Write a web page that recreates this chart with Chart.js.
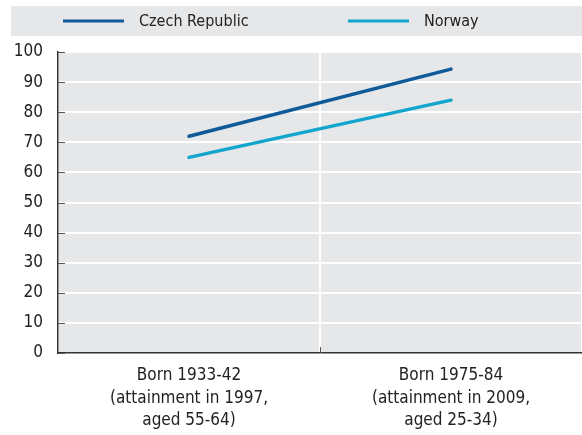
<!DOCTYPE html>
<html>
<head>
<meta charset="utf-8">
<script src="https://cdn.jsdelivr.net/npm/chart.js@4"></script>
<style>
  html, body { margin: 0; padding: 0; background: #fff; }
  #wrap { width: 582px; height: 435px; position: relative; }
</style>
</head>
<body>
<div id="wrap"><canvas id="chart"></canvas></div>
<script>
const categories = [
    ["Born 1933-42", "(attainment in 1997,", "aged 55-64)"],
    ["Born 1975-84", "(attainment in 2009,", "aged 25-34)"]
];
const seriesNames = ["Czech Republic", "Norway"];
const czechValues = [72, 94.3];
const norwayValues = [65, 84];
const yTicks = [0, 10, 20, 30, 40, 50, 60, 70, 80, 90, 100];

const FONT = "'DejaVu Sans Condensed', 'Liberation Sans', sans-serif";
const PANEL = "#e6e7e8";
const colors = ["#0f5a99", "#12a6cd"];

// grey plot background, inner tick marks and the legend band
const decor = {
    id: "decor",
    beforeDraw(chart) {
        const { ctx, chartArea: a } = chart;
        ctx.save();
        ctx.fillStyle = PANEL;
        ctx.fillRect(a.left, a.top, a.right - a.left, a.bottom - a.top);
        ctx.restore();
    },
    afterDraw(chart) {
        const { ctx, chartArea: a, scales } = chart;
        ctx.save();
        ctx.strokeStyle = "#555";
        ctx.lineWidth = 1;
        scales.y.ticks.forEach((t) => {
            const y = Math.round(scales.y.getPixelForValue(t.value)) + 0.5;
            ctx.beginPath();
            ctx.moveTo(a.left, y);
            ctx.lineTo(a.left + 7, y);
            ctx.stroke();
        });
        const mid = Math.round((a.left + a.right) / 2) + 0.5;
        ctx.beginPath();
        ctx.moveTo(mid, a.bottom);
        ctx.lineTo(mid, a.bottom - 6);
        ctx.stroke();

        // legend band
        ctx.fillStyle = PANEL;
        ctx.fillRect(11, 6, 571, 30);
        const items = [{ x: 63 }, { x: 348 }];
        chart.data.datasets.forEach((ds, i) => {
            const x = items[i].x;
            ctx.strokeStyle = ds.borderColor;
            ctx.lineWidth = 3;
            ctx.beginPath();
            ctx.moveTo(x, 21);
            ctx.lineTo(x + 61, 21);
            ctx.stroke();
            ctx.fillStyle = "#222";
            ctx.font = "16px " + FONT;
            ctx.textBaseline = "middle";
            ctx.fillText(ds.label, x + 76, 22);
        });
        ctx.restore();
    }
};

new Chart(document.getElementById("chart"), {
    type: "line",
    data: {
        labels: categories,
        datasets: [
            { label: seriesNames[0], data: czechValues, borderColor: colors[0], backgroundColor: colors[0] },
            { label: seriesNames[1], data: norwayValues, borderColor: colors[1], backgroundColor: colors[1] }
        ]
    },
    options: {
        responsive: true,
        maintainAspectRatio: false,
        animation: false,
        layout: { padding: { top: 52, right: 0, bottom: 0, left: 0 } },
        elements: {
            line: { borderWidth: 3.5, borderCapStyle: "round", tension: 0 },
            point: { radius: 0, hoverRadius: 0 }
        },
        plugins: {
            legend: { display: false },
            tooltip: { enabled: false }
        },
        scales: {
            x: {
                offset: true,
                grid: { offset: true, color: "#fff", lineWidth: 2, drawTicks: false },
                border: { color: "#333", width: 1.5 },
                ticks: {
                    color: "#222",
                    padding: 12,
                    maxRotation: 0,
                    font: { family: FONT, size: 17, lineHeight: 1.3 }
                },
                afterFit(scale) { scale.height = 82; }
            },
            y: {
                min: 0,
                max: 100,
                afterBuildTicks(scale) { scale.ticks = yTicks.map((v) => ({ value: v })); },
                grid: { color: "#fff", lineWidth: 2, drawTicks: false },
                border: { color: "#333", width: 1.5 },
                ticks: {
                    color: "#222",
                    padding: 15,
                    font: { family: FONT, size: 17 }
                },
                afterFit(scale) { scale.width = 58; }
            }
        }
    },
    plugins: [decor]
});
</script>
</body>
</html>
